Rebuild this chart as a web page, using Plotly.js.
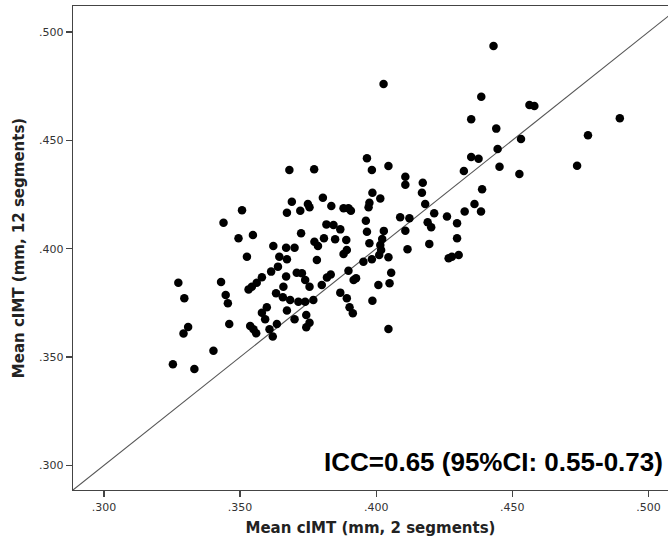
<!DOCTYPE html>
<html>
<head>
<meta charset="utf-8">
<script src="https://cdn.plot.ly/plotly-3.0.1.min.js"></script>
<style>html,body{margin:0;padding:0;background:#fff;}#chart{width:668px;height:541px;}</style>
</head>
<body>
<div id="chart"></div>
<script>
// Mean cIMT, 2 segments (x)
const cimt2seg = [
.3439,.3494,.3547,.3724,.3817,.3773,.3786,.3808,.3622,.3669,
.3700,.3525,.3644,.3672,.3782,.3639,.3614,.3708,.3727,.3739,
.3755,.3669,.3659,.3580,.3561,.3543,.3531,.3819,.3833,.3800,
.3273,.3430,.3447,.3455,.3632,.3657,.3684,.3714,.3739,.3769,
.3295,.3598,.3580,.3592,.3672,.3700,.3743,.3755,.3743,.3460,
.3537,.3549,.3559,.3608,.3635,.3620,.3292,.3309,.3402,.3253,
.3332,.3507,.3681,.3772,.3690,.3672,.3721,.3749,.3755,.3804,
.3835,.3843,.3868,.3849,.3890,.3880,.3898,.3907,.3986,.4015,
.3975,.3972,.4107,.4171,.4168,.4180,.4389,.4361,.4385,.4325,
.4260,.4297,.4213,.4088,.4122,.3962,.3966,.4189,.4202,.4107,
.4028,.4022,.4015,.4018,.4011,.3975,.4297,.4195,.4115,.3880,
.3892,.4045,.3984,.3953,.4266,.4278,.4303,.3898,.3917,.3926,
.4055,.4008,.4049,.3868,.3892,.3902,.3914,.3986,.4045,.4107,
.4027,.3966,.3984,.4045,.4431,.4386,.4563,.4581,.4349,.4895,
.4441,.4532,.4778,.4446,.4349,.4376,.4322,.4453,.4526,.4738
];
// Mean cIMT, 12 segments (y)
const cimt12seg = [
.4120,.4048,.4063,.4071,.4112,.4032,.4012,.4048,.4012,.4004,
.4004,.3963,.3963,.3951,.3948,.3917,.3894,.3889,.3886,.3855,
.3824,.3871,.3824,.3868,.3843,.3824,.3812,.3867,.3881,.3832,
.3843,.3846,.3786,.3748,.3794,.3776,.3763,.3755,.3755,.3763,
.3771,.3729,.3704,.3674,.3714,.3674,.3694,.3658,.3637,.3652,
.3643,.3628,.3609,.3628,.3652,.3594,.3608,.3638,.3529,.3466,
.3445,.4177,.4363,.4366,.4217,.4166,.4175,.4206,.4191,.4235,
.4197,.4109,.4089,.4043,.4040,.4186,.4186,.4175,.4258,.4232,
.4212,.4191,.4295,.4304,.4258,.4206,.4274,.4206,.4171,.4171,
.4148,.4117,.4163,.4145,.4140,.4129,.4078,.4122,.4099,.4083,
.4082,.4045,.4017,.3994,.3971,.4025,.4048,.4022,.3997,.3975,
.3994,.3960,.3951,.3940,.3956,.3963,.3971,.3898,.3855,.3863,
.3889,.3832,.3840,.3797,.3771,.3729,.3702,.3760,.3629,.4332,
.4760,.4417,.4363,.4382,.4935,.4701,.4663,.4658,.4597,.4602,
.4554,.4506,.4523,.4460,.4423,.4415,.4358,.4378,.4345,.4383
];
const tickVals = [0.30, 0.35, 0.40, 0.45, 0.50];
const tickText = ['.300', '.350', '.400', '.450', '.500'];
const identityLine = [0.25, 0.55];
const xTitle = 'Mean cIMT (mm, 2 segments)';
const yTitle = 'Mean cIMT (mm, 12 segments)';
const iccText = 'ICC=0.65 (95%CI: 0.55-0.73)';

const axisBase = {
  tickmode: 'array', tickvals: tickVals, ticktext: tickText,
  ticks: 'outside', ticklen: 6, tickwidth: 1.3, tickcolor: '#444',
  showline: true, linecolor: '#444', linewidth: 1.3, mirror: true,
  showgrid: false, zeroline: false,
  tickfont: {family: 'DejaVu Sans', size: 11, color: '#333'},
  automargin: false
};

const data = [
  {x: identityLine, y: identityLine, mode: 'lines', type: 'scatter',
   line: {color: '#555', width: 1.1}, hoverinfo: 'skip', showlegend: false},
  {x: cimt2seg, y: cimt12seg, mode: 'markers', type: 'scatter',
   marker: {color: '#000', size: 8.5}, showlegend: false}
];

const layout = {
  width: 668, height: 541,
  margin: {l: 73, r: 0, t: 6, b: 51},
  paper_bgcolor: '#fff', plot_bgcolor: '#fff',
  xaxis: Object.assign({}, axisBase, {
    range: [0.2886, 0.5072],
    title: {text: xTitle, font: {family: 'DejaVu Sans', size: 15, color: '#222', weight: 'bold'}, standoff: 10}
  }),
  yaxis: Object.assign({}, axisBase, {
    range: [0.2886, 0.512],
    title: {text: yTitle, font: {family: 'DejaVu Sans', size: 15, color: '#222', weight: 'bold'}, standoff: 10}
  }),
  annotations: [{
    text: '<b>' + iccText + '</b>', xref: 'paper', yref: 'paper',
    x: 0.995, y: 0.058, xanchor: 'right', yanchor: 'middle', showarrow: false,
    font: {family: 'Liberation Sans', size: 26, color: '#000'}
  }]
};

Plotly.newPlot('chart', data, layout, {staticPlot: true, displayModeBar: false});
</script>
</body>
</html>
